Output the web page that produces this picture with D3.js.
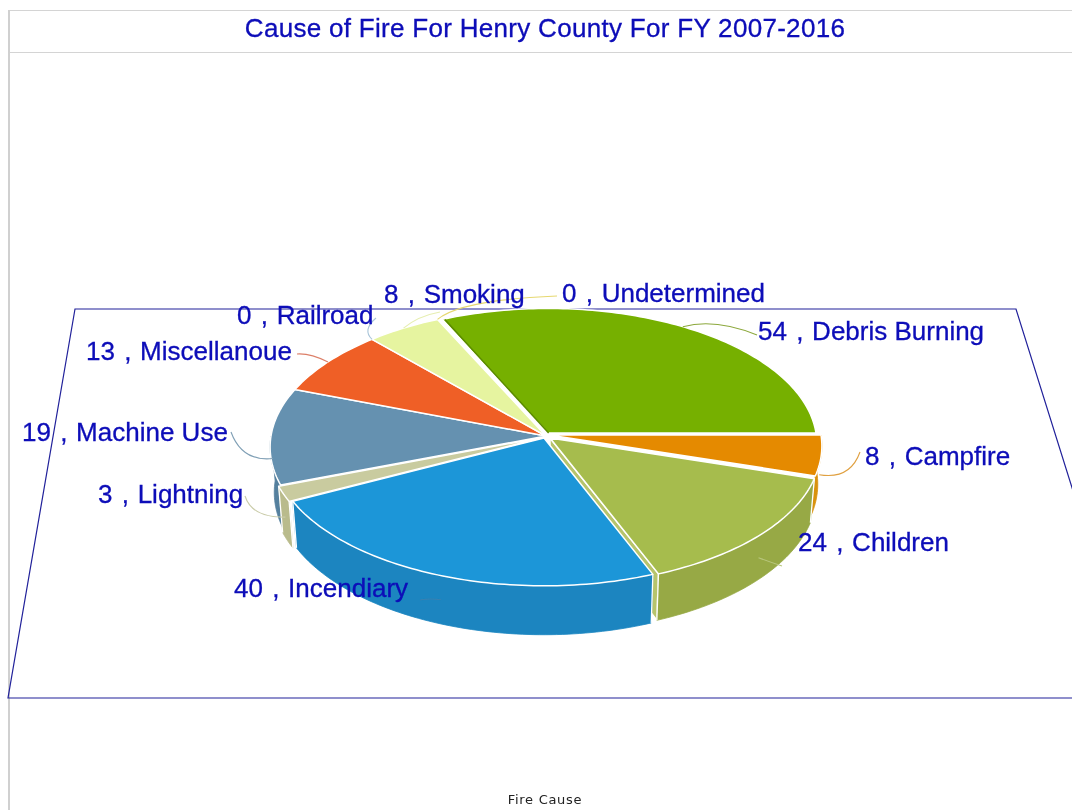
<!DOCTYPE html>
<html><head><meta charset="utf-8">
<style>html,body{margin:0;padding:0;background:#fff;overflow:hidden}svg{display:block}</style>
<script src="https://cdn.jsdelivr.net/npm/d3@7/dist/d3.min.js"></script>
</head><body>
<svg id="c" width="1072" height="810"></svg>
<script>
const titleText = "Cause of Fire For Henry County For FY 2007-2016";
const axisLabel = "Fire Cause";
const categories = ["Campfire","Children","Incendiary","Lightning","Machine Use","Miscellanoue","Railroad","Smoking","Undetermined","Debris Burning"];
const values = [8,24,40,3,19,13,0,8,0,54];
const topColors = ["#E58A00","#A6BC4E","#1C96D8","#C9CB9F","#6591B0","#EF5F26","#FFFFFF","#E6F4A0","#FFFFFF","#76B000"];
const wallColors = ["#D9920F","#97A945","#1A85C0","#B9BB8C","#55809E","#D05020","#FFFFFF","#CCD98C","#FFFFFF","#689C00"];
const leaderColors = ["#E0A040","#B8C67C","#3A80B0","#C9CBA8","#7F9FB5","#DC7F68","#A8C4D8","#E6EEB0","#E6D870","#8CA83C"];
// layout only: slice centre / radius tweaks, label baselines, leader ends
const sliceCx = [549,550,544,545,546,546,546,546,546,548];
const sliceCy = [435,438,438,437,436,436,436,436,436,433];
const sliceR  = [272,270,271,276,275,275,275,275,275,268];
const sliceDepth = [38,43,45,45,45,45,45,45,45,45];
const labelX = [865,798,234,98,22,86,237,384,562,758];
const labelY = [465,551,597,503,441,360,324,303,302,340];
const leaderEnd = [[860,452],[782,566],[420,600],[245,496],[231,432],[297,354],[376,318],[440,312],[557,296],[757,335]];
const leaderCtl = [[850,480],[770,562],[430,598],[252,518],[242,462],[310,353],[362,330],[418,316],[460,300],[715,318]];

const svg = d3.select("#c");
const defs = svg.append("defs");
defs.append("filter").attr("id","soft").attr("x","-5%").attr("y","-5%").attr("width","110%").attr("height","110%")
  .append("feGaussianBlur").attr("stdDeviation",0.4);
const root = svg.append("g").attr("filter","url(#soft)");
root.append("rect").attr("width",1072).attr("height",810).attr("fill","#fff");
const PERSP = 0.08, RY_RATIO = 138/275;

// frame
root.append("path").attr("d","M1072,10.5H9.5M1072,52.5H9.5").attr("fill","none").attr("stroke","#d4d4d4");
root.append("path").attr("d","M9,810V10").attr("fill","none").attr("stroke","#d0d0d0").attr("stroke-width",2);

// floor plane
const planeY = d3.scaleLinear().domain([0,1]).range([309,698]);
const planeL = d3.scaleLinear().domain([0,1]).range([75,8]);
const planeR = d3.scaleLinear().domain([0,1]).range([1016,1138]);
root.append("path").attr("d",
  d3.line()([[planeL(0),planeY(0)],[planeR(0),planeY(0)],[planeR(1),planeY(1)],[planeL(1),planeY(1)]])+"Z")
  .attr("fill","none").attr("stroke","#20209A").attr("stroke-width",1.2);

// pie angles: d3 zero is north, clockwise; first slice starts at east
const arcs = d3.pie().sort(null).value(d=>d).startAngle(Math.PI/2).endAngle(Math.PI/2+2*Math.PI)(values);

function project(i, a, level){ // a: d3 pie angle, level 0 = top, 1 = bottom
  const u = Math.sin(a), v = -Math.cos(a);
  const w = 1/(1-PERSP*v);
  const R = sliceR[i];
  const shrink = 1-0.015*level;
  return [sliceCx[i]+R*u*w*shrink, sliceCy[i]+R*RY_RATIO*v*w+level*sliceDepth[i]*w];
}
const apex = (i,level)=>[sliceCx[i], sliceCy[i]+level*sliceDepth[i]];
function rim(i,a0,a1,level){
  const n = Math.max(2,Math.ceil(Math.abs(a1-a0)/0.02));
  return d3.range(n+1).map(k=>project(i,a0+(a1-a0)*k/n,level));
}
const line = d3.line();

const gCuts = root.append("g"), gWalls = root.append("g"), gTops = root.append("g"), gLead = root.append("g"), gText = root.append("g");

// cut face of Children shows through the gap next to Incendiary
arcs.forEach((d,i)=>{
  if (categories[i]!=="Children") return;
  const poly = [apex(i,0),project(i,d.endAngle,0),project(i,d.endAngle,1),apex(i,1)];
  gCuts.append("path").attr("d",line(poly)+"Z").attr("fill","#B7C46C").attr("stroke","#fff").attr("stroke-width",1.5);
});

// outer walls, front half only, painted from the sides towards the viewer
const wallOrder = d3.range(arcs.length).sort((p,q)=>
  d3.ascending(-Math.cos((arcs[p].startAngle+arcs[p].endAngle)/2), -Math.cos((arcs[q].startAngle+arcs[q].endAngle)/2)));
wallOrder.forEach(i=>{
  const d = arcs[i];
  if (d.value===0) return;
  const a0 = Math.max(d.startAngle,Math.PI/2), a1 = Math.min(d.endAngle,3*Math.PI/2);
  if (a1<=a0) return;
  const pts = rim(i,a0,a1,0).concat(rim(i,a1,a0,1));
  gWalls.append("path").attr("d",line(pts)+"Z").attr("fill",wallColors[i])
    .attr("stroke", wallColors[i]).attr("stroke-width",0.8);
  if (["Children","Incendiary","Lightning"].includes(categories[i])) {
    gWalls.append("path").attr("d",line([project(i,a0,0),project(i,a0,1)])).attr("stroke","#fff").attr("stroke-width",1.3);
    gWalls.append("path").attr("d",line([project(i,a1,0),project(i,a1,1)])).attr("stroke","#fff").attr("stroke-width",1.3);
  }
});

// top faces
arcs.forEach((d,i)=>{
  if (d.value===0) return;
  const pts = [apex(i,0)].concat(rim(i,d.startAngle,d.endAngle,0));
  gTops.append("path").attr("d",line(pts)+"Z").attr("fill",topColors[i])
    .attr("stroke","#fff").attr("stroke-width",1.5).attr("stroke-linejoin","round");
});
// dark edge along the start of the largest slice
arcs.forEach((d,i)=>{
  if (categories[i]!=="Debris Burning") return;
  const e = project(i,d.startAngle+0.006,0);
  gTops.append("path").attr("d",line([[apex(i,0)[0]+0.6,apex(i,0)[1]],[e[0]+1.2,e[1]+0.4]]))
    .attr("stroke","#5A8A00").attr("stroke-width",1.4).attr("fill","none");
});

// leaders: start on the slice rim, half way down the wall on the front half
arcs.forEach((d,i)=>{
  const mid = (d.startAngle+d.endAngle)/2;
  const front = -Math.cos(mid) > 0;
  const s = project(i,mid,front?0.5:0);
  const p = d3.path();
  p.moveTo(s[0],s[1]);
  p.quadraticCurveTo(leaderCtl[i][0],leaderCtl[i][1],leaderEnd[i][0],leaderEnd[i][1]);
  gLead.append("path").attr("d",p.toString()).attr("fill","none").attr("stroke",leaderColors[i]).attr("stroke-width",1.1);
});

// labels
const labels = gText.selectAll("text").data(arcs).join("text")
  .attr("x",(d,i)=>labelX[i]).attr("y",(d,i)=>labelY[i])
  .attr("font-family","'Liberation Sans',Arial,sans-serif").attr("font-size",26)
  .attr("fill","#0A0AB8").attr("stroke","#0A0AB8").attr("stroke-width",0.3);
labels.append("tspan").text((d,i)=>`${values[i]} `);
labels.append("tspan").attr("dx",2).text(", ");
labels.append("tspan").attr("dx",1.5).text((d,i)=>categories[i]);

root.append("text").attr("x",545).attr("y",37).attr("text-anchor","middle")
  .attr("font-family","'Liberation Sans',Arial,sans-serif").attr("font-size",26).attr("letter-spacing",0.3)
  .attr("fill","#0A0AB8").attr("stroke","#0A0AB8").attr("stroke-width",0.3).text(titleText);
root.append("text").attr("x",545).attr("y",804).attr("text-anchor","middle")
  .attr("font-family","'DejaVu Sans',sans-serif").attr("font-size",13).attr("letter-spacing",0.7).attr("fill","#222").text(axisLabel);
</script>
</body></html>
